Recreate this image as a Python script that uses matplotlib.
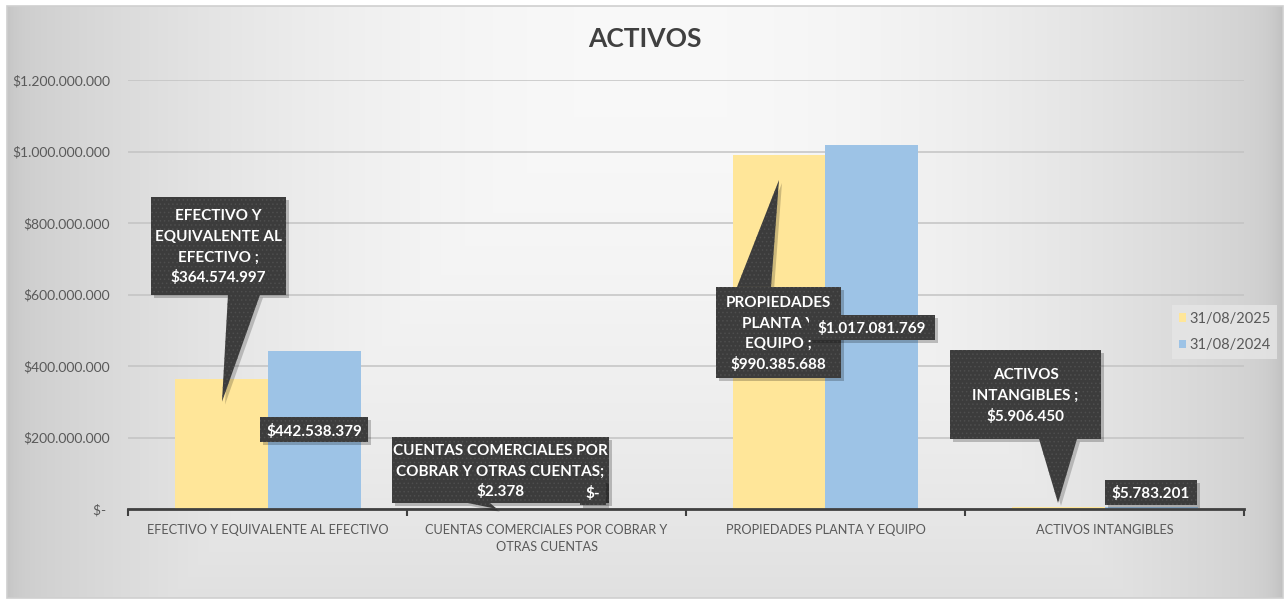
import numpy as np
import matplotlib
matplotlib.use("Agg")
import matplotlib.pyplot as plt
from matplotlib.patches import Rectangle, Polygon
from matplotlib.transforms import Affine2D

# ---------------- data ----------------
categories = ["EFECTIVO Y EQUIVALENTE AL EFECTIVO",
              "CUENTAS COMERCIALES POR COBRAR Y\nOTRAS CUENTAS",
              "PROPIEDADES PLANTA Y EQUIPO",
              "ACTIVOS INTANGIBLES"]
callout_names = [["EFECTIVO Y", "EQUIVALENTE AL", "EFECTIVO ;"],
                 ["CUENTAS COMERCIALES POR", "COBRAR Y OTRAS CUENTAS;"],
                 ["PROPIEDADES", "PLANTA Y", "EQUIPO ;"],
                 ["ACTIVOS", "INTANGIBLES ;"]]
series_names = ["31/08/2025", "31/08/2024"]
values_2025 = [364574997, 2378, 990385688, 5906450]
values_2024 = [442538379, 0, 1017081769, 5783201]
yticks = [0, 200000000, 400000000, 600000000, 800000000, 1000000000, 1200000000]
ytick_labels = ["$- ", "$200.000.000", "$400.000.000", "$600.000.000",
                "$800.000.000", "$1.000.000.000", "$1.200.000.000"]
title = "ACTIVOS"

# ---------------- style ----------------
FONT = "Lato"
plt.rcParams["font.family"] = [FONT, "DejaVu Sans"]
plt.rcParams["hatch.linewidth"] = 0.6
C_2025 = "#FFE699"
C_2024 = "#9DC3E6"
C_BOX = "#3c3c3c"
C_TXT = "#595959"
LBL_SIZE = 11
LINE_STEP = 20.5  # px between callout lines

W, H = 1286, 603
fig = plt.figure(figsize=(W / 100, H / 100), dpi=100)
fig.patch.set_facecolor("white")

# background gradient (chart area)
bx0, by0, bx1, by1 = 7, 6, 1283, 598  # image px (top-left origin)
bg = fig.add_axes([bx0 / W, 1 - by1 / H, (bx1 - bx0) / W, (by1 - by0) / H], zorder=-10)
xs = np.arange(bx0, bx1)
ys = np.arange(by0, by1)
X, Y = np.meshgrid(xs, ys)
u = (X - 650) / 640.0
w = (Y - 25) / 600.0
val = 0.975 - np.maximum(0.17 * u ** 2, 0.105 * w ** 2)
val -= 0.06 * np.exp(-(bx1 - X) / 10.0)
val -= 0.03 * np.exp(-(X - bx0) / 10.0)
val = np.clip(val, 0, 1)
bg.imshow(np.dstack([val, val, val]), aspect="auto", extent=(0, 1, 0, 1), origin="upper")
bg.set_axis_off()
fig.add_artist(Rectangle((bx0 / W, 1 - by1 / H), (bx1 - bx0) / W, (by1 - by0) / H,
                         transform=fig.transFigure, fill=False, ec="#cfcfcf", lw=1.2, zorder=-5))

# main axes: x from 128 to 1244 px, y from 80 (1.2B) to 509 (0)
ax_l, ax_r, ax_t, ax_b = 128, 1244, 80, 509
ax = fig.add_axes([ax_l / W, 1 - ax_b / H, (ax_r - ax_l) / W, (ax_b - ax_t) / H])
ax.set_facecolor("none")

n = len(categories)
x = np.arange(n)
bw = 1 / 3
ax.bar(x - bw / 2, values_2025, width=bw, color=C_2025, label=series_names[0], zorder=2)
ax.bar(x + bw / 2, values_2024, width=bw, color=C_2024, label=series_names[1], zorder=2)

ax.set_xlim(-0.5, n - 0.5)
ax.set_ylim(0, yticks[-1])
ax.set_yticks(yticks)
ax.set_yticklabels(ytick_labels)
ax.set_xticks(x)
ax.set_xticklabels(categories, linespacing=1.45)
ax.set_xticks(np.arange(n + 1) - 0.5, minor=True)
ax.tick_params(axis="x", which="major", length=0, pad=11, labelsize=9.2, labelcolor=C_TXT)
ax.tick_params(axis="x", which="minor", length=5, width=1.5, color="#404040", direction="out")
ax.tick_params(axis="y", length=0, pad=13, labelsize=10, labelcolor=C_TXT)
for s in ["top", "right", "left"]:
    ax.spines[s].set_visible(False)
ax.spines["bottom"].set_color("#404040")
ax.spines["bottom"].set_linewidth(2)
ax.spines["bottom"].set_zorder(3)
ax.grid(axis="y", color="#c3c3c3", lw=1.1, zorder=0)
ax.set_axisbelow(True)

fig.text(645 / W, 1 - 39 / H, title, ha="center", va="center", fontsize=19,
         fontweight="bold", color="#404040")

# legend
leg = ax.legend(loc="center left", bbox_to_anchor=(1172 / W, 1 - 332 / H),
                bbox_transform=fig.transFigure, frameon=True, fontsize=10.5,
                handlelength=0.5, handleheight=0.5, handletextpad=0.25,
                labelspacing=0.85, borderpad=0.45, borderaxespad=0, labelcolor=C_TXT)
leg.get_frame().set_facecolor("#e6e6e6")
leg.get_frame().set_alpha(0.8)
leg.get_frame().set_edgecolor("none")
leg.get_frame().set_boxstyle("square", pad=0)


def money(v):
    if v == 0:
        return "$-"
    return "$" + f"{v:,.0f}".replace(",", ".")


def anchor_px(xd, yd):
    return ax.transData.transform((xd, yd))


def dark_box(T, x0, y0, w_, h_, z=6):
    ax.add_patch(Rectangle((x0 + 3, y0 - 3), w_, h_, transform=T, fc="black",
                           alpha=0.22, ec="none", clip_on=False, zorder=z - 0.5))
    ax.add_patch(Rectangle((x0, y0), w_, h_, transform=T, fc=C_BOX, ec="#4e4e4e",
                           lw=0, hatch="....", clip_on=False, zorder=z))


# callout layout for the 2025 series (pixel offsets from bar top): box, wedge base, tip
callouts = [
    dict(box=(-70, 84, 135, 98), base=((7, 84), (39, 84)), tip=(1, -23)),
    dict(box=(-108, 6, 217, 66), base=((-32, 6), (-10, 6)), tip=(-3, 0)),
    dict(box=(-63, -223, 125, 91), base=((-42, -132), (-8, -132)), tip=(0, -25)),
    dict(box=(-108, 68, 151, 89), base=((-19, 68), (19, 68)), tip=(0, 4)),
]

for i, (name_lines, v, lay) in enumerate(zip(callout_names, values_2025, callouts)):
    axp, ayp = anchor_px(x[i] - bw / 2, v)
    T = Affine2D().translate(axp, ayp)
    bx, by, bwid, bht = lay["box"]
    (b1, b2), tip = lay["base"], lay["tip"]
    ax.add_patch(Polygon([(b1[0] + 3, b1[1] - 3), (b2[0] + 3, b2[1] - 3), (tip[0] + 3, tip[1] - 3)],
                         closed=True, transform=T, fc="black", alpha=0.2, ec="none",
                         clip_on=False, zorder=5.5))
    ax.add_patch(Polygon([b1, b2, tip], closed=True, transform=T, fc=C_BOX, ec="#4e4e4e",
                         lw=0, hatch="....", clip_on=False, zorder=6))
    dark_box(T, bx, by, bwid, bht)
    lines = name_lines + [money(v)]
    cx, cy = bx + bwid / 2, by + bht / 2
    m = len(lines)
    for k, line in enumerate(lines):
        ly = cy + ((m - 1) / 2 - k) * LINE_STEP
        ax.text(cx, ly, line, transform=T, ha="center", va="center_baseline", color="white",
                fontsize=LBL_SIZE, fontweight="bold", zorder=7, clip_on=False)

# data labels for the 2024 series (centered in the bar, kept above the axis)
for i, v in enumerate(values_2024):
    xc = x[i] + bw / 2
    x0p, y0p = anchor_px(xc, 0)
    _, yvp = anchor_px(xc, v)
    yc = max((yvp - y0p) / 2, 17)
    T = Affine2D().translate(x0p, y0p)
    t = money(v)
    tw = 8.3 * len(t) + 9
    z = 8
    dark_box(T, -tw / 2, yc - 12.5, tw, 25, z=z)
    ax.text(0, yc, t, transform=T, ha="center", va="center_baseline", color="white",
            fontsize=LBL_SIZE, fontweight="bold", zorder=z + 1, clip_on=False)

fig.savefig("out.png", dpi=100)
